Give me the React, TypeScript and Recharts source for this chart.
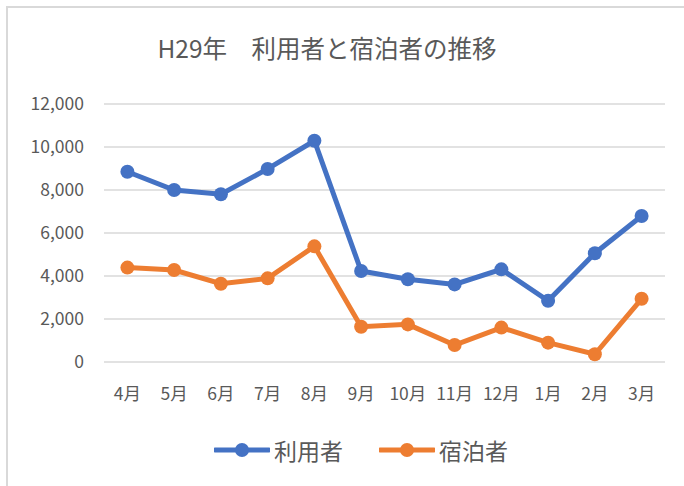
import { LineChart, Line, XAxis, YAxis, CartesianGrid, Legend } from 'recharts';

const FONT = '"Noto Sans CJK JP", "Noto Sans", sans-serif';
const TEXT = '#595959';

const MONTHS = ['4月', '5月', '6月', '7月', '8月', '9月', '10月', '11月', '12月', '1月', '2月', '3月'];
const USERS = [8850, 8000, 7800, 8980, 10290, 4230, 3850, 3610, 4310, 2850, 5060, 6790];
const GUESTS = [4390, 4280, 3640, 3890, 5380, 1640, 1750, 790, 1600, 900, 360, 2940];
const Y_TICKS = [0, 2000, 4000, 6000, 8000, 10000, 12000];

const SERIES = [
    { key: 'users', name: '利用者', color: '#4472C4' },
    { key: 'guests', name: '宿泊者', color: '#ED7D31' },
];

const data = MONTHS.map((m, i) => ({ month: m, users: USERS[i], guests: GUESTS[i] }));

function LegendBox() {
    return (
        <div style={{ display: 'flex', justifyContent: 'center', alignItems: 'center', height: 30, paddingLeft: 13, gap: 36 }}>
            {SERIES.map(s => (
                <div key={s.key} style={{ display: 'flex', alignItems: 'center', gap: 4 }}>
                    <svg width={56} height={16}>
                        <line x1={1} y1={8} x2={55} y2={8} stroke={s.color} strokeWidth={5} strokeLinecap="round" />
                        <circle cx={28} cy={8} r={7} fill={s.color} />
                    </svg>
                    <span style={{ fontFamily: FONT, fontSize: 23, color: TEXT, lineHeight: '30px' }}>{s.name}</span>
                </div>
            ))}
        </div>
    );
}

export default function App() {
    return (
        <div style={{ position: 'absolute', left: 0, top: 0, width: 684, height: 486, background: '#fff', overflow: 'hidden' }}>
            {/* chart frame, only top/left visible */}
            <div style={{ position: 'absolute', left: 6, top: 6, width: 720, height: 520, borderTop: '2px solid #d9d9d9', borderLeft: '2px solid #d9d9d9' }} />
            <div style={{ position: 'absolute', left: 0, top: 33, width: 654, textAlign: 'center', fontFamily: FONT, fontSize: 24.5, lineHeight: '30px', color: TEXT, whiteSpace: 'pre' }}>
                H29年　利用者と宿泊者の推移
            </div>
            <LineChart width={684} height={486} data={data} margin={{ top: 104, right: 19, left: 44, bottom: 21 }} style={{ position: 'absolute', left: 0, top: 0 }}>
                <CartesianGrid vertical={false} stroke="#d9d9d9" strokeWidth={1.5} />
                <XAxis dataKey="month" axisLine={false} tickLine={false} tickSize={0} tickMargin={26} height={73} interval={0}
                    padding={{ left: 23.4, right: 23.4 }}
                    tick={{ fill: TEXT, fontSize: 17.5, fontFamily: FONT }} />
                <YAxis domain={[0, 12000]} ticks={Y_TICKS} width={60} axisLine={false} tickLine={false} tickSize={0} tickMargin={20}
                    tickFormatter={(v: number) => v.toLocaleString('en-US')}
                    tick={{ fill: TEXT, fontSize: 17.5, fontFamily: FONT }} />
                <Legend verticalAlign="bottom" content={() => <LegendBox />} />
                {SERIES.map(s => (
                    <Line key={s.key} type="linear" dataKey={s.key} name={s.name} stroke={s.color} strokeWidth={5}
                        dot={{ r: 7, fill: s.color, stroke: s.color, strokeWidth: 0 }} activeDot={false} isAnimationActive={false} />
                ))}
            </LineChart>
        </div>
    );
}
